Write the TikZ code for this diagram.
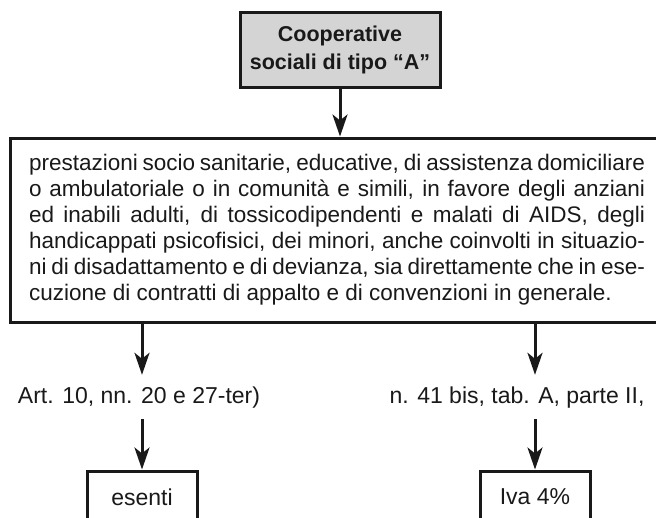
\documentclass[tikz,border=0pt]{standalone}
\usepackage{fontspec}
\setmainfont{Liberation Sans}
\usetikzlibrary{arrows.meta}
\newlength{\testow}\setlength{\testow}{616pt}
\newcommand{\riga}[1]{\makebox[\testow][s]{\spaceskip=.278em plus 1em minus .12em #1}}
\newcommand{\ultimariga}[1]{\makebox[\testow][l]{#1}}

\begin{document}
\begin{tikzpicture}[x=1pt,y=-1pt,
  box/.style={draw=black!90,line width=3pt,text=black!90},
  arr/.style={draw=black!90,line width=3pt,-{Stealth[length=22pt,width=15pt,inset=6pt]}},
  lab/.style={text=black!90,inner xsep=0pt,inner ysep=12pt,text height=16pt,text depth=4pt,
    font=\fontsize{23}{26}\selectfont}]
\useasboundingbox (0,0) rectangle (656,517);

\node[box,fill=black!17,minimum width=200pt,minimum height=75pt,align=center,
  font=\fontsize{21.5}{28}\selectfont\bfseries] (coop) at (340,49.5)
  {Cooperative\\sociali di tipo “A”};

\node[box,inner xsep=19pt,minimum height=184pt,align=left,
  font=\fontsize{22.5}{26}\selectfont] (prest) at (337,230)
  {\riga{prestazioni socio sanitarie, educative, di assistenza domiciliare}\\
   \riga{o ambulatoriale o in comunità e simili, in favore degli anziani}\\
   \riga{ed inabili adulti, di tossicodipendenti e malati di AIDS, degli}\\
   \riga{handicappati psicofisici, dei minori, anche coinvolti in situazio-}\\
   \riga{ni di disadattamento e di devianza, sia direttamente che in ese-}\\
   \ultimariga{cuzione di contratti di appalto e di convenzioni in generale.}};

\node[lab,anchor=base] (art) at (139,403) {Art. 10, nn. 20 e 27-ter)};
\node[lab,anchor=base] (tab) at (517,403) {n. 41 bis, tab. A, parte II,};

\node[box,minimum width=110pt,minimum height=52pt,font=\fontsize{23}{26}\selectfont]
  (esenti) at (142,497) {esenti};
\node[box,minimum width=110pt,minimum height=52pt,font=\fontsize{23}{26}\selectfont]
  (iva) at (535,497) {Iva 4\%};

\draw[arr] (coop.south) -- (coop.south |- prest.north);
\draw[arr] (prest.south -| esenti) -- (art.north -| esenti);
\draw[arr] (art.south -| esenti) -- (esenti.north);
\draw[arr] (prest.south -| iva) -- (tab.north -| iva);
\draw[arr] (tab.south -| iva) -- (iva.north);
\end{tikzpicture}
\end{document}
